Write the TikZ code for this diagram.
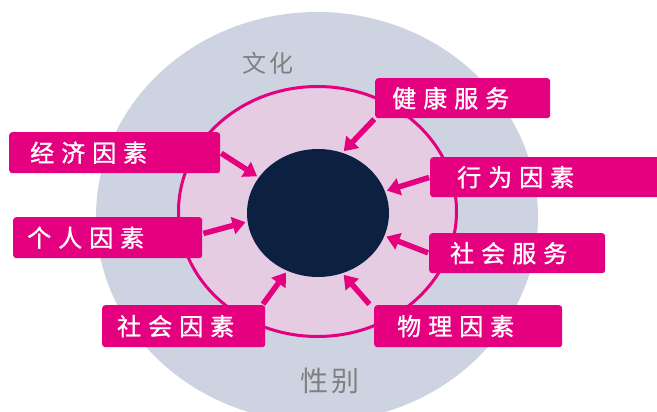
\documentclass[tikz,border=0pt]{standalone}
\usepackage{fontspec}
\setmainfont{Noto Sans CJK SC}
\newfontfamily\boxfont{Noto Sans CJK SC}[FakeBold=1.2]
\usetikzlibrary{shapes.geometric,arrows.meta}
\definecolor{mag}{HTML}{E4007F}
\definecolor{navy}{HTML}{0C2142}
\definecolor{outergray}{HTML}{CDD3E1}
\definecolor{innerpink}{HTML}{E6CCE2}
\definecolor{labgray}{HTML}{808080}
\tikzset{
  factor/.style={rectangle, rounded corners=3pt, fill=mag, text=white,
    font=\boxfont\fontsize{24}{24}\selectfont, inner ysep=0pt, anchor=north west, align=left},
  push/.style={draw=mag, line width=5.5pt, -{Triangle[width=17pt,length=13pt]},
    shorten >=2pt, shorten <=1pt},
  outerlabel/.style={text=labgray, inner sep=0pt},
}
\begin{document}
\begin{tikzpicture}[x=1pt,y=-1pt]
\useasboundingbox (0,0) rectangle (657,412);
\clip (0,0) rectangle (657,412);
% background circles
\node[ellipse, fill=outergray, minimum width=442pt, minimum height=410pt, inner sep=0pt] (outer) at (317,217) {};
\node[ellipse, draw=mag, line width=3pt, fill=innerpink, minimum width=278pt, minimum height=250pt, inner sep=0pt] (ring) at (317.5,211.5) {};
\node[ellipse, fill=navy, minimum width=142pt, minimum height=128pt, inner sep=0pt] (dark) at (318,213) {};
% outer labels
\node[outerlabel, font=\fontsize{24}{24}\selectfont] (culture) at (268,63) {文\kern4pt化};
\node[outerlabel, font=\fontsize{28}{28}\selectfont] (gender) at (330,381) {性\kern3pt别};
% factor boxes
\node[factor, minimum width=211pt, minimum height=41pt, inner xsep=21pt, text width=169pt] (ej) at (9,132) {经\kern7pt济\kern7pt因\kern7pt素};
\node[factor, minimum width=189pt, minimum height=41pt, inner xsep=14pt, text width=161pt] (gr) at (13,217) {个\kern7pt人\kern7pt因\kern7pt素};
\node[factor, minimum width=163pt, minimum height=42pt, inner xsep=15pt, text width=133pt] (sy) at (102,305) {社\kern7pt会\kern7pt因\kern7pt素};
\node[factor, minimum width=175pt, minimum height=40pt, inner xsep=17pt, text width=141pt] (hs) at (375,78) {健\kern7pt康\kern7pt服\kern7pt务};
\node[factor, minimum width=235pt, minimum height=40pt, inner xsep=27pt, text width=181pt] (xw) at (430,157) {行\kern7pt为\kern7pt因\kern7pt素};
\node[factor, minimum width=176pt, minimum height=40pt, inner xsep=21pt, text width=134pt] (sf) at (429,233) {社\kern7pt会\kern7pt服\kern7pt务};
\node[factor, minimum width=188pt, minimum height=42pt, inner xsep=23pt, text width=142pt] (wl) at (374,305) {物\kern7pt理\kern7pt因\kern7pt素};
% arrows
\draw[push] (hs.south west) -- (dark.68);
\draw[push] (ej.east) -- (dark.149.5);
\draw[push] ([yshift=4pt]gr.east) -- (dark.187.6);
\draw[push] (xw.west) -- (dark.18);
\draw[push] (sf.west) -- (dark.-19);
\draw[push] ([xshift=-3pt]sy.north east) -- (dark.242);
\draw[push] ([xshift=-4pt]wl.north west) -- (dark.292);
\end{tikzpicture}
\end{document}
